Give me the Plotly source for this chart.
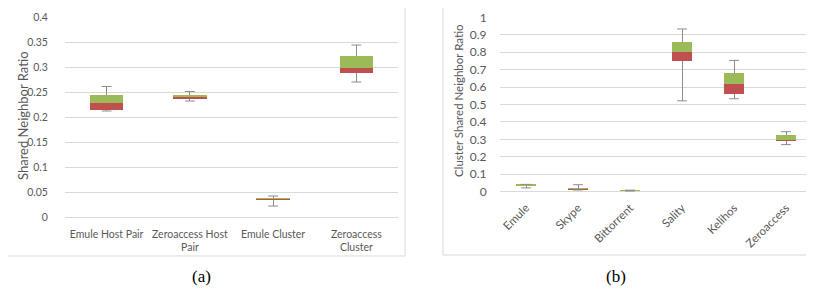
import plotly.graph_objects as go

# Panel (a)
cats_a = ["Emule Host Pair", "Zeroaccess Host<br>Pair", "Emule Cluster", "Zeroaccess<br>Cluster"]
min_a = [0.212, 0.232, 0.022, 0.270]
q1_a = [0.215, 0.236, 0.034, 0.289]
med_a = [0.229, 0.240, 0.036, 0.298]
q3_a = [0.245, 0.245, 0.038, 0.323]
max_a = [0.261, 0.251, 0.042, 0.344]

# Panel (b)
cats_b = ["Emule", "Skype", "Bittorrent", "Sality", "Kelihos", "Zeroaccess"]
min_b = [0.022, 0.010, 0.003, 0.521, 0.533, 0.270]
q1_b = [0.034, 0.012, 0.004, 0.747, 0.561, 0.289]
med_b = [0.036, 0.015, 0.006, 0.801, 0.619, 0.298]
q3_b = [0.038, 0.018, 0.008, 0.859, 0.682, 0.323]
max_b = [0.042, 0.040, 0.009, 0.933, 0.753, 0.344]

RED = "#C0504D"
GREEN = "#9BBB59"
WHISK = "#8C8C8C"
GRID = "#D9D9D9"
TXT = "#595959"
FONT = "Lato"

# page body has an 8px margin; figure is sized to fill the rest of the window
OFF = 8
W, H = 814 - OFF, 295 - OFF
def px(x):
    return (x - OFF) / W
def py(y):
    return (H - (y - OFF)) / H

fig = go.Figure()

def add_box(cats, mn, q1, md, q3, mx, xa, ya):
    # invisible base (0 -> Q1) carries the lower whisker line
    fig.add_trace(go.Bar(
        x=cats, y=q1, xaxis=xa, yaxis=ya,
        marker=dict(color="rgba(0,0,0,0)", line=dict(width=0)),
        error_y=dict(type="data", symmetric=False,
                     array=[0] * len(q1),
                     arrayminus=[a - b for a, b in zip(q1, mn)],
                     color=WHISK, thickness=1, width=0),
        hoverinfo="skip", showlegend=False))
    fig.add_trace(go.Bar(
        x=cats, y=[b - a for a, b in zip(q1, md)], xaxis=xa, yaxis=ya,
        marker=dict(color=RED, line=dict(width=0)),
        showlegend=False))
    # green (median -> Q3) carries the upper whisker line
    fig.add_trace(go.Bar(
        x=cats, y=[b - a for a, b in zip(md, q3)], xaxis=xa, yaxis=ya,
        marker=dict(color=GREEN, line=dict(width=0)),
        error_y=dict(type="data", symmetric=False,
                     array=[b - a for a, b in zip(q3, mx)],
                     arrayminus=[0] * len(q3),
                     color=WHISK, thickness=1, width=0),
        showlegend=False))
    # whisker caps
    for vals in (mn, mx):
        fig.add_trace(go.Scatter(
            x=cats, y=vals, xaxis=xa, yaxis=ya, mode="markers",
            marker=dict(symbol="line-ew", size=7,
                        line=dict(color=WHISK, width=1)),
            hoverinfo="skip", showlegend=False))

add_box(cats_a, min_a, q1_a, med_a, q3_a, max_a, "x", "y")
add_box(cats_b, min_b, q1_b, med_b, q3_b, max_b, "x2", "y2")

fig.update_layout(
    width=W, height=H,
    margin=dict(l=0, r=0, t=0, b=0, autoexpand=False),
    paper_bgcolor="white", plot_bgcolor="white",
    barmode="stack", bargap=0.6,
    font=dict(family=FONT, color=TXT, size=10),
    xaxis=dict(domain=[px(65), px(398)], anchor="y", showgrid=False,
               showline=False, zeroline=False, ticks="outside",
               ticklen=7, tickcolor="rgba(0,0,0,0)", automargin=False,
               tickfont=dict(size=10.5, family=FONT, color=TXT)),
    yaxis=dict(domain=[py(217), py(17)], anchor="x", range=[0, 0.4],
               dtick=0.05, showgrid=True, gridcolor=GRID, gridwidth=1,
               zeroline=True, zerolinecolor=GRID, zerolinewidth=1,
               showline=False, ticks="outside", ticklen=14,
               tickcolor="rgba(0,0,0,0)", automargin=False,
               tickfont=dict(size=10.5, family=FONT, color=TXT)),
    xaxis2=dict(domain=[px(500), px(812)], anchor="y2", showgrid=False,
                showline=False, zeroline=False, tickangle=-45,
                ticks="outside", ticklen=4, tickcolor="rgba(0,0,0,0)",
                automargin=False,
                tickfont=dict(size=11.5, family=FONT, color=TXT)),
    yaxis2=dict(domain=[py(191.7), py(17.3)], anchor="x2", range=[0, 1],
                dtick=0.1, showgrid=True, gridcolor=GRID, gridwidth=1,
                zeroline=True, zerolinecolor=GRID, zerolinewidth=1,
                showline=False, ticks="outside", ticklen=10,
                tickcolor="rgba(0,0,0,0)", automargin=False,
                tickfont=dict(size=12, family=FONT, color=TXT)),
    shapes=[
        dict(type="rect", xref="paper", yref="paper",
             x0=px(5), x1=px(405), y0=py(256), y1=py(6),
             line=dict(color=GRID, width=1), fillcolor="rgba(0,0,0,0)", layer="below"),
        dict(type="rect", xref="paper", yref="paper",
             x0=px(443), x1=px(813.5), y0=py(255), y1=py(6),
             line=dict(color=GRID, width=1), fillcolor="rgba(0,0,0,0)", layer="below"),
    ],
    annotations=[
        dict(text="Shared Neighbor Ratio", xref="paper", yref="paper",
             x=px(23), y=py(116), textangle=-90, showarrow=False,
             xanchor="center", yanchor="middle",
             font=dict(size=13, family=FONT, color=TXT)),
        dict(text="Cluster Shared Neighbor Ratio", xref="paper", yref="paper",
             x=px(458), y=py(101), textangle=-90, showarrow=False,
             xanchor="center", yanchor="middle",
             font=dict(size=11.5, family=FONT, color=TXT)),
        dict(text="(a)", xref="paper", yref="paper", x=px(201), y=py(276),
             showarrow=False, xanchor="center", yanchor="middle",
             font=dict(size=17, family="Liberation Serif", color="black")),
        dict(text="(b)", xref="paper", yref="paper", x=px(616), y=py(276),
             showarrow=False, xanchor="center", yanchor="middle",
             font=dict(size=17, family="Liberation Serif", color="black")),
    ],
)

fig.write_html("out.html")
